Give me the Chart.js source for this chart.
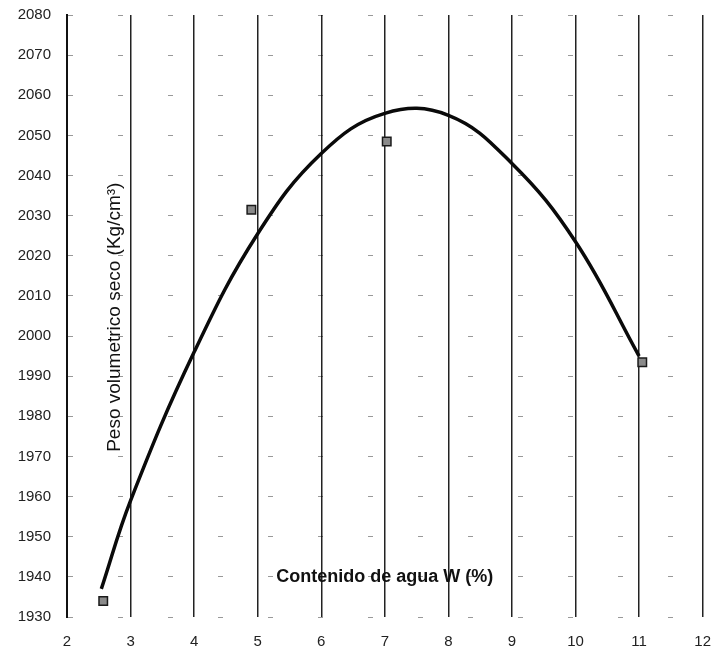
<!DOCTYPE html>
<html>
<head>
<meta charset="utf-8">
<script src="https://cdn.jsdelivr.net/npm/chart.js@4"></script>
<style>
html,body{margin:0;padding:0;background:#fff;}
#wrap{width:727px;height:650px;position:relative;}
</style>
</head>
<body>
<div id="wrap"><canvas id="c" width="727" height="650"></canvas></div>
<script>
// Measured points (water content %, dry unit weight)
const pointX = [2.57, 4.9, 7.03, 11.05];
const pointY = [1934, 2031.5, 2048.5, 1993.5];
// Trend curve
const curveX = [2.54, 3, 4, 5, 6, 7, 8, 9, 10, 11];
const curveY = [1937, 1959, 1996, 2025.5, 2045.5, 2055.5, 2055, 2043, 2023.5, 1995];
// Axis ticks
const xTicks = [2, 3, 4, 5, 6, 7, 8, 9, 10, 11, 12];
const yTicks = [1930, 1940, 1950, 1960, 1970, 1980, 1990, 2000, 2010, 2020, 2030, 2040, 2050, 2060, 2070, 2080];
const xTitle = 'Contenido de agua W (%)';
const yTitle = 'Peso volumetrico seco (Kg/cm³)';

const titles = {
  id: 'innerTitles',
  afterDraw(chart) {
    const {ctx, scales} = chart;
    ctx.save();
    ctx.fillStyle = '#111';
    ctx.font = 'bold 18px "Liberation Sans", Arial, sans-serif';
    ctx.textAlign = 'center';
    ctx.textBaseline = 'middle';
    ctx.fillText(xTitle, scales.x.getPixelForValue(7.0), scales.y.getPixelForValue(1940.0));
    ctx.translate(scales.x.getPixelForValue(2.75), scales.y.getPixelForValue(2004.7));
    ctx.rotate(-Math.PI / 2);
    ctx.font = '19px "Liberation Sans", Arial, sans-serif';
    ctx.fillText(yTitle, 0, 0);
    ctx.restore();
  }
};

new Chart(document.getElementById('c'), {
  type: 'scatter',
  data: {
    datasets: [
      {
        data: curveX.map((x, i) => ({x, y: curveY[i]})),
        showLine: true,
        borderColor: '#0a0a0a',
        borderWidth: 3.5,
        pointRadius: 0,
        tension: 0.4,
        fill: false,
        order: 2
      },
      {
        data: pointX.map((x, i) => ({x, y: pointY[i]})),
        showLine: false,
        pointStyle: 'rect',
        pointRadius: 6,
        backgroundColor: '#8a8a8a',
        borderColor: '#1a1a1a',
        borderWidth: 1.5,
        order: 1
      }
    ]
  },
  options: {
    responsive: false,
    animation: false,
    devicePixelRatio: 1,
    layout: {padding: {top: 0, right: 10, left: 0, bottom: 0}},
    plugins: {legend: {display: false}, tooltip: {enabled: false}},
    scales: {
      x: {
        type: 'linear',
        min: 2, max: 12,
        afterBuildTicks: s => { s.ticks = xTicks.map(v => ({value: v})); },
        afterFit: s => { s.height = 33; },
        grid: {color: '#222', lineWidth: 1.5, drawTicks: false},
        border: {display: false},
        ticks: {color: '#222', font: {size: 15, family: '"Liberation Sans", Arial, sans-serif'}, padding: 16, maxRotation: 0, callback: v => String(v)}
      },
      y: {
        type: 'linear',
        min: 1930, max: 2080,
        afterBuildTicks: s => { s.ticks = yTicks.map(v => ({value: v})); },
        afterFit: s => { s.width = 67; s.paddingTop = 15; s.paddingBottom = 9; },
        grid: {color: 'rgba(0,0,0,0.4)', lineWidth: 1, drawTicks: false},
        border: {display: true, color: '#111', width: 2, dash: [5, 45]},
        ticks: {color: '#222', font: {size: 15, family: '"Liberation Sans", Arial, sans-serif'}, padding: 16, callback: v => String(v)}
      }
    }
  },
  plugins: [titles]
});
</script>
</body>
</html>
